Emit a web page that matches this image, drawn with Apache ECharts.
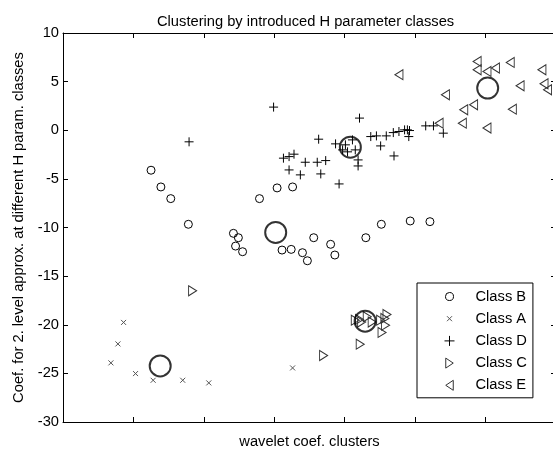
<!DOCTYPE html>
<html>
<head>
<meta charset="utf-8">
<script src="https://cdn.jsdelivr.net/npm/echarts@6/dist/echarts.min.js"></script>
<style>
html,body{margin:0;padding:0;background:#fff;}
#chart{width:553px;height:449px;}
</style>
</head>
<body>
<div id="chart"></div>
<script>
// ---- data (x: cluster position, y: coefficient) ----
var classA = [[0.68,-23.92],[0.78,-21.97],[0.86,-19.76],[1.03,-25.02],[1.28,-25.71],[1.70,-25.71],[2.07,-25.98],[3.26,-24.44]];
var classB = [[1.25,-4.11],[1.39,-5.83],[1.53,-7.03],[1.78,-9.67],[2.79,-7.03],[3.04,-5.93],[3.26,-5.83],
  [2.42,-10.60],[2.49,-11.05],[2.45,-11.91],[2.55,-12.49],[3.11,-12.32],[3.24,-12.25],[3.40,-12.59],[3.47,-13.42],
  [3.56,-11.05],[3.80,-11.73],[3.86,-12.83],[4.30,-11.05],[4.52,-9.67],[4.93,-9.33],[5.21,-9.40]];
var classD = [[1.79,-1.19],[2.99,2.38],[4.21,1.25],[3.63,-0.92],[3.87,-1.40],[3.13,-2.87],[3.21,-2.71],[3.28,-2.46],
  [3.21,-4.08],[3.37,-4.59],[3.44,-3.29],[3.61,-3.29],[3.73,-3.12],[3.66,-4.49],[3.92,-5.52],[4.19,-3.05],[4.19,-3.67],
  [4.37,-0.65],[4.45,-0.58],[4.51,-1.61],[4.59,-0.58],[4.69,-0.24],[4.77,-0.13],[4.70,-2.64],[4.85,0.04],[4.89,0.04],
  [4.92,-0.03],[4.91,-0.65],[5.15,0.45],[5.26,0.45],[5.40,-0.30],
  [4.01,-1.50],[4.11,-0.99],[4.04,-2.22],[4.15,-2.02],[3.97,-2.02]];
var classC = [[1.84,-16.51],[3.70,-23.16],[4.22,-22.00],[4.15,-19.53],[4.21,-19.45],[4.32,-19.19],[4.39,-19.73],
  [4.51,-19.53],[4.60,-18.94],[4.57,-19.35],[4.58,-20.04],[4.53,-20.79],[4.24,-19.73]];
var classE = [[4.77,5.71],[5.43,3.64],[5.69,2.10],[5.83,2.62],[5.67,0.73],[5.34,0.73],[6.02,0.22],[5.88,7.08],
  [5.88,6.22],[6.02,6.05],[6.14,6.40],[6.35,6.97],[6.49,4.57],[6.38,2.17],[6.80,6.22],[6.83,4.78],[6.88,4.16]];
var centroids = [[1.38,-24.23],[3.02,-10.51],[4.08,-1.74],[4.29,-19.63],[6.03,4.34]];
var yTicks = [-30,-25,-20,-15,-10,-5,0,5,10];
var legendNames = ['Class B','Class A','Class D','Class C','Class E'];

var FONT = 'Liberation Sans';
var FS = 14.7;
var symX = 'path://M0,0L10,10M10,0L0,10';
var symPlus = 'path://M5,0L5,10M0,5L10,5';
var symRight = 'path://M0,0L9,5.5L0,11Z';
var symLeft = 'path://M9,0L0,5.5L9,11Z';
// legend icons padded with move-only anchor points to keep their sizes
var legX = 'path://M0,0M10,10M2.5,2.5L7.5,7.5M7.5,2.5L2.5,7.5';

var chart = echarts.init(document.getElementById('chart'), null, {renderer:'canvas'});
function sc(name, data, symbol, size, color, fill){
  return {
    name: name, type: 'scatter', data: data, symbol: symbol, symbolSize: size,
    itemStyle: {color: fill, borderColor: color, borderWidth: 1, opacity: 1},
    emphasis: {disabled: true}, silent: true, animation: false
  };
}
var axisCommon = {
  type: 'value', min: 0, max: 7, interval: 1,
  axisLine: {show: true, onZero: false, lineStyle: {color: '#000', width: 1}},
  axisTick: {show: true, inside: true, length: 5, lineStyle: {color: '#000'}},
  axisLabel: {show: false}, splitLine: {show: false}
};
var option = {
  backgroundColor: '#fff',
  animation: false,
  title: {
    text: 'Clustering by introduced H parameter classes',
    left: 152, top: 9,
    textStyle: {fontFamily: FONT, fontSize: FS, fontWeight: 'normal', color: '#000'}
  },
  grid: {left: 63, top: 33, right: -3, bottom: 27, containLabel: false, outerBoundsMode: 'none'},
  xAxis: [
    Object.assign({}, axisCommon, {
      position: 'bottom', name: 'wavelet coef. clusters', nameLocation: 'middle', nameGap: 12,
      nameTextStyle: {fontFamily: FONT, fontSize: FS, color: '#000', verticalAlign: 'top'}
    }),
    Object.assign({}, axisCommon, {position: 'top'})
  ],
  yAxis: [
    {
      type: 'value', min: -30, max: 10, interval: 5, position: 'left',
      name: 'Coef. for 2. level approx. at different H param. classes',
      nameLocation: 'middle', nameGap: 35, nameRotate: 90,
      nameTextStyle: {fontFamily: FONT, fontSize: FS, color: '#000'},
      axisLine: {show: true, onZero: false, lineStyle: {color: '#000', width: 1}},
      axisTick: {show: true, inside: true, length: 5, lineStyle: {color: '#000'}},
      axisLabel: {show: true, margin: 4, fontFamily: FONT, fontSize: FS, color: '#000',
        formatter: function(v){ return yTicks.indexOf(v) >= 0 ? String(v) : ''; }},
      splitLine: {show: false}
    },
    {
      type: 'value', min: -30, max: 10, interval: 5, position: 'right',
      axisLine: {show: true, onZero: false, lineStyle: {color: '#000', width: 1}},
      axisTick: {show: true, inside: true, length: 5, lineStyle: {color: '#000'}},
      axisLabel: {show: false}, splitLine: {show: false}
    }
  ],
  legend: {
    left: 417, top: 283, orient: 'vertical',
    padding: [6, 6, 5, 27],
    backgroundColor: '#fff', borderColor: '#000', borderWidth: 1, borderRadius: 0,
    itemWidth: 10, itemHeight: 10, itemGap: 7.2, selectedMode: false,
    itemStyle: {borderWidth: 1},
    textStyle: {fontFamily: FONT, fontSize: FS, color: '#000', lineHeight: 14, padding: [0, 0, 0, 16]},
    data: [
      {name: legendNames[0], icon: 'path://M5,1A4,4 0 1 1 4.99,1ZM0,0M10,10', itemStyle: {color: '#fff', borderColor: '#000', borderWidth: 1}},
      {name: legendNames[1], icon: legX, itemStyle: {color: 'rgba(0,0,0,0)', borderColor: '#555', borderWidth: 1}},
      {name: legendNames[2], icon: 'path://M5,0.5L5,9.5M0.5,5L9.5,5', itemStyle: {color: 'rgba(0,0,0,0)', borderColor: '#000', borderWidth: 1}},
      {name: legendNames[3], icon: 'path://M1.5,0L9,5L1.5,10Z', itemStyle: {color: 'rgba(255,255,255,0)', borderColor: '#333', borderWidth: 1}},
      {name: legendNames[4], icon: 'path://M8.5,0L1,5L8.5,10Z', itemStyle: {color: 'rgba(255,255,255,0)', borderColor: '#333', borderWidth: 1}}
    ]
  },
  series: [
    sc(legendNames[0], classB, 'circle', 8, '#000', 'rgba(255,255,255,0)'),
    sc(legendNames[1], classA, symX, 5, '#555', 'rgba(0,0,0,0)'),
    sc(legendNames[2], classD, symPlus, 9, '#000', 'rgba(0,0,0,0)'),
    sc(legendNames[3], classC, symRight, [8, 10], '#333', 'rgba(255,255,255,0)'),
    sc(legendNames[4], classE, symLeft, [8, 10], '#333', 'rgba(255,255,255,0)'),
    {
      name: 'centroids', type: 'scatter', data: centroids, symbol: 'circle', symbolSize: 21,
      itemStyle: {color: 'rgba(0,0,0,0)', borderColor: '#000', borderWidth: 2},
      emphasis: {disabled: true}, silent: true, z: 3
    }
  ]
};
chart.setOption(option);
</script>
</body>
</html>
